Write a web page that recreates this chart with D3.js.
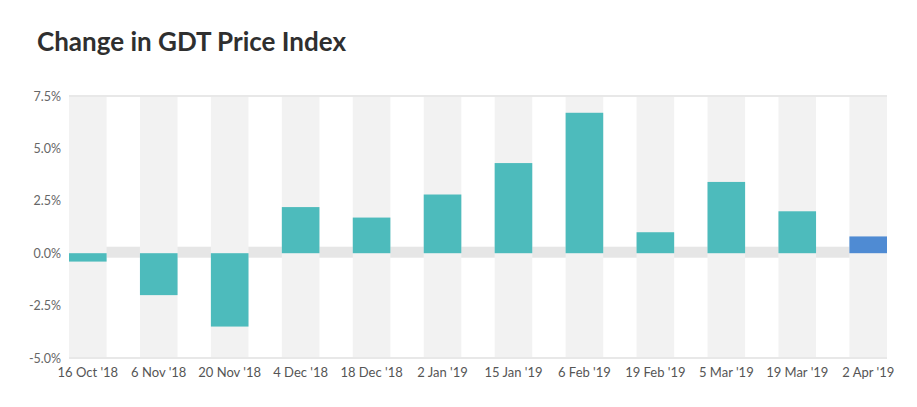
<!DOCTYPE html>
<html>
<head>
<meta charset="utf-8">
<script src="https://cdn.jsdelivr.net/npm/d3@7"></script>
<style>
  html, body { margin: 0; padding: 0; background: #fff; }
  svg { display: block; }
</style>
</head>
<body>
<svg id="chart" width="917" height="407"></svg>
<script>
const categories = ["16 Oct '18", "6 Nov '18", "20 Nov '18", "4 Dec '18", "18 Dec '18", "2 Jan '19",
  "15 Jan '19", "6 Feb '19", "19 Feb '19", "5 Mar '19", "19 Mar '19", "2 Apr '19"];
const changes = [-0.4, -2.0, -3.5, 2.2, 1.7, 2.8, 4.3, 6.7, 1.0, 3.4, 2.0, 0.8];
const yTicks = [-5, -2.5, 0, 2.5, 5, 7.5];
const titleText = "Change in GDT Price Index";

(function () {
const svg = d3.select("#chart");
const plotLeft = 69, plotRight = 887, plotTop = 96, plotBottom = 358;

const x = d3.scaleBand().domain(categories).range([plotLeft, plotRight]).paddingInner(0.47).paddingOuter(0);
const y = d3.scaleLinear().domain([-5, 7.5]).range([plotBottom, plotTop]);

svg.append("text")
  .attr("x", 37).attr("y", 51)
  .attr("font-family", "Lato, sans-serif")
  .attr("font-weight", "bold")
  .attr("font-size", 26)
  .attr("fill", "#2f2f2f")
  .text(titleText);

// zero band
svg.append("rect")
  .attr("x", plotLeft).attr("width", plotRight - plotLeft)
  .attr("y", y(0) - 6.5).attr("height", 11)
  .attr("fill", "#e6e6e6");

// background columns
svg.append("g").selectAll("rect").data(categories).join("rect")
  .attr("x", d => x(d)).attr("width", x.bandwidth())
  .attr("y", y(7.5)).attr("height", y(-5) - y(7.5))
  .attr("fill", "#f2f2f2");

// top and bottom lines
[7.5, -5].forEach(v => {
  svg.append("line")
    .attr("x1", plotLeft).attr("x2", plotRight)
    .attr("y1", y(v)).attr("y2", y(v))
    .attr("stroke", "#e8e8e8").attr("stroke-width", 2);
});

// bars
svg.append("g").selectAll("rect").data(changes).join("rect")
  .attr("x", (d, i) => x(categories[i]))
  .attr("width", x.bandwidth())
  .attr("y", d => y(Math.max(0, d)))
  .attr("height", d => Math.abs(y(d) - y(0)))
  .attr("fill", (d, i) => i === changes.length - 1 ? "#4f8bd3" : "#4dbbbc");

// y axis
const yAxis = d3.axisLeft(y).tickValues(yTicks).tickFormat(d => d.toFixed(1) + "%").tickSize(0).tickPadding(8);
const gy = svg.append("g").attr("transform", `translate(${plotLeft},0)`).call(yAxis);
gy.select(".domain").remove();
gy.selectAll("text").attr("font-family", "Lato, sans-serif").attr("font-size", 12.5).attr("fill", "#666");

// x axis
const xAxis = d3.axisBottom(x).tickSize(0).tickPadding(10);
const gx = svg.append("g").attr("transform", `translate(0,${plotBottom})`).call(xAxis);
gx.select(".domain").remove();
gx.selectAll("text").attr("font-family", "Lato, sans-serif").attr("font-size", 13).attr("fill", "#555");
})();
</script>
</body>
</html>
